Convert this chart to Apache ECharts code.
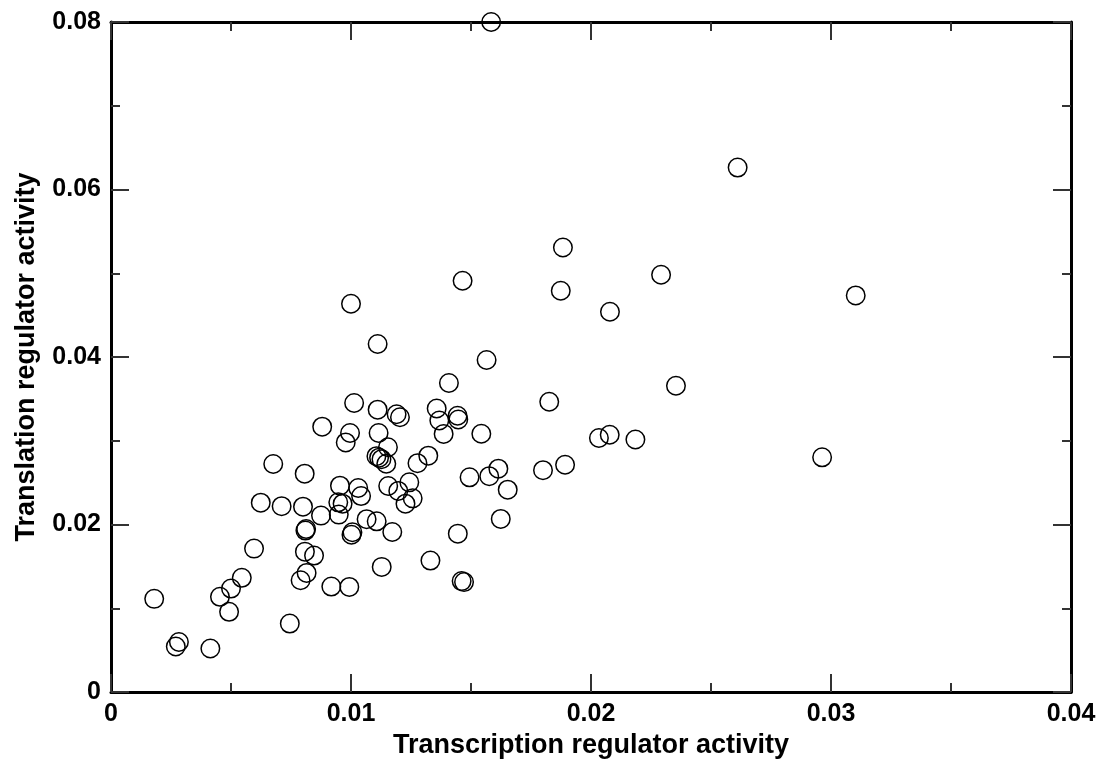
<!DOCTYPE html>
<html>
<head>
<meta charset="utf-8">
<script src="https://cdn.jsdelivr.net/npm/echarts@6/dist/echarts.min.js"></script>
<style>
html,body{margin:0;padding:0;background:#fff;}
#chart{width:1104px;height:764px;}
</style>
</head>
<body>
<div id="chart"></div>
<script>
// Transcription regulator activity (x) vs Translation regulator activity (y)
const transcription = [
  0.00180, 0.00283, 0.00270, 0.00414, 0.00454, 0.00500, 0.00492, 0.00545, 0.00596, 0.00624,
  0.00711, 0.00800, 0.00745, 0.00813, 0.00810, 0.00808, 0.00846, 0.00815, 0.00790, 0.00918,
  0.00993, 0.00875, 0.00949, 0.01006, 0.01002, 0.00676, 0.00807, 0.00880, 0.00996, 0.00978,
  0.01013, 0.01111, 0.01190, 0.01204, 0.01111, 0.01000, 0.01115, 0.01154, 0.01106, 0.01117,
  0.01127, 0.01147, 0.01277, 0.01322, 0.00954, 0.01030, 0.01042, 0.00947, 0.00965, 0.01065,
  0.01107, 0.01155, 0.01197, 0.01243, 0.01257, 0.01227, 0.01172, 0.01357, 0.01368, 0.01444,
  0.01447, 0.01386, 0.01408, 0.01565, 0.01543, 0.01494, 0.01576, 0.01614, 0.01653, 0.01800,
  0.01892, 0.01826, 0.01624, 0.01445, 0.01331, 0.01128, 0.01461, 0.01471, 0.02033, 0.02078,
  0.02185, 0.02079, 0.01584, 0.01883, 0.01465, 0.01874, 0.02611, 0.02292, 0.03103, 0.02354,
  0.02963
];
const translation = [
  0.01112, 0.00597, 0.00543, 0.00519, 0.01136, 0.01235, 0.00957, 0.01363, 0.01712, 0.02261,
  0.02219, 0.02213, 0.00817, 0.01945, 0.01927, 0.01676, 0.01629, 0.01422, 0.01334, 0.01259,
  0.01255, 0.02106, 0.02118, 0.01907, 0.01877, 0.02723, 0.02607, 0.03168, 0.03093, 0.02980,
  0.03451, 0.03371, 0.03317, 0.03281, 0.04155, 0.04636, 0.03093, 0.02923, 0.02816, 0.02798,
  0.02780, 0.02726, 0.02732, 0.02822, 0.02464, 0.02436, 0.02339, 0.02265, 0.02249, 0.02064,
  0.02038, 0.02460, 0.02401, 0.02503, 0.02312, 0.02249, 0.01911, 0.03385, 0.03242, 0.03299,
  0.03254, 0.03082, 0.03690, 0.03964, 0.03084, 0.02563, 0.02577, 0.02667, 0.02416, 0.02649,
  0.02714, 0.03466, 0.02067, 0.01891, 0.01569, 0.01494, 0.01324, 0.01312, 0.03033, 0.03072,
  0.03015, 0.04540, 0.08000, 0.05307, 0.04910, 0.04791, 0.06262, 0.04982, 0.04735, 0.03657,
  0.02802
];
const xTicks = [0, 0.01, 0.02, 0.03, 0.04];
const yTicks = [0, 0.02, 0.04, 0.06, 0.08];
const xTitle = 'Transcription regulator activity';
const yTitle = 'Translation regulator activity';

const points = transcription.map((v, i) => [v, translation[i]]);
const FONT = '"Liberation Sans", Arial, Helvetica, sans-serif';

function axisBase(pos, min, max, interval, showLabel) {
  return {
    type: 'value',
    position: pos,
    min: min, max: max, interval: interval,
    axisLine: { show: true, onZero: false, lineStyle: { color: '#000', width: 3 } },
    axisTick: { show: true, inside: true, length: 18, lineStyle: { color: '#333', width: 2 } },
    minorTick: { show: true, splitNumber: 2, length: 9, lineStyle: { color: '#333', width: 2 } },
    splitLine: { show: false },
    minorSplitLine: { show: false },
    axisLabel: {
      show: showLabel, margin: 10, color: '#000',
      fontFamily: FONT, fontWeight: 'bold', fontSize: 25
    }
  };
}

const chart = echarts.init(document.getElementById('chart'), null, { renderer: 'canvas' });
const xMain = axisBase('bottom', xTicks[0], xTicks[xTicks.length - 1], xTicks[1] - xTicks[0], true);
xMain.name = xTitle;
xMain.nameLocation = 'middle';
xMain.nameGap = 40;
xMain.nameTextStyle = { fontFamily: FONT, fontWeight: 'bold', fontSize: 27, color: '#000' };
const yMain = axisBase('left', yTicks[0], yTicks[yTicks.length - 1], yTicks[1] - yTicks[0], true);
yMain.name = yTitle;
yMain.nameLocation = 'middle';
yMain.nameGap = 71;
yMain.nameTextStyle = { fontFamily: FONT, fontWeight: 'bold', fontSize: 27, color: '#000' };

chart.setOption({
  animation: false,
  backgroundColor: '#fff',
  grid: { left: 111, right: 33, top: 22, bottom: 72, containLabel: false },
  xAxis: [xMain, axisBase('top', xTicks[0], xTicks[xTicks.length - 1], xTicks[1] - xTicks[0], false)],
  yAxis: [yMain, axisBase('right', yTicks[0], yTicks[yTicks.length - 1], yTicks[1] - yTicks[0], false)],
  series: [{
    type: 'scatter',
    xAxisIndex: 0, yAxisIndex: 0,
    data: points,
    symbol: 'circle',
    symbolSize: 18.5,
    clip: false,
    itemStyle: { color: 'rgba(0,0,0,0)', borderColor: '#000', borderWidth: 1.5, opacity: 1 }
  }]
});
</script>
</body>
</html>
